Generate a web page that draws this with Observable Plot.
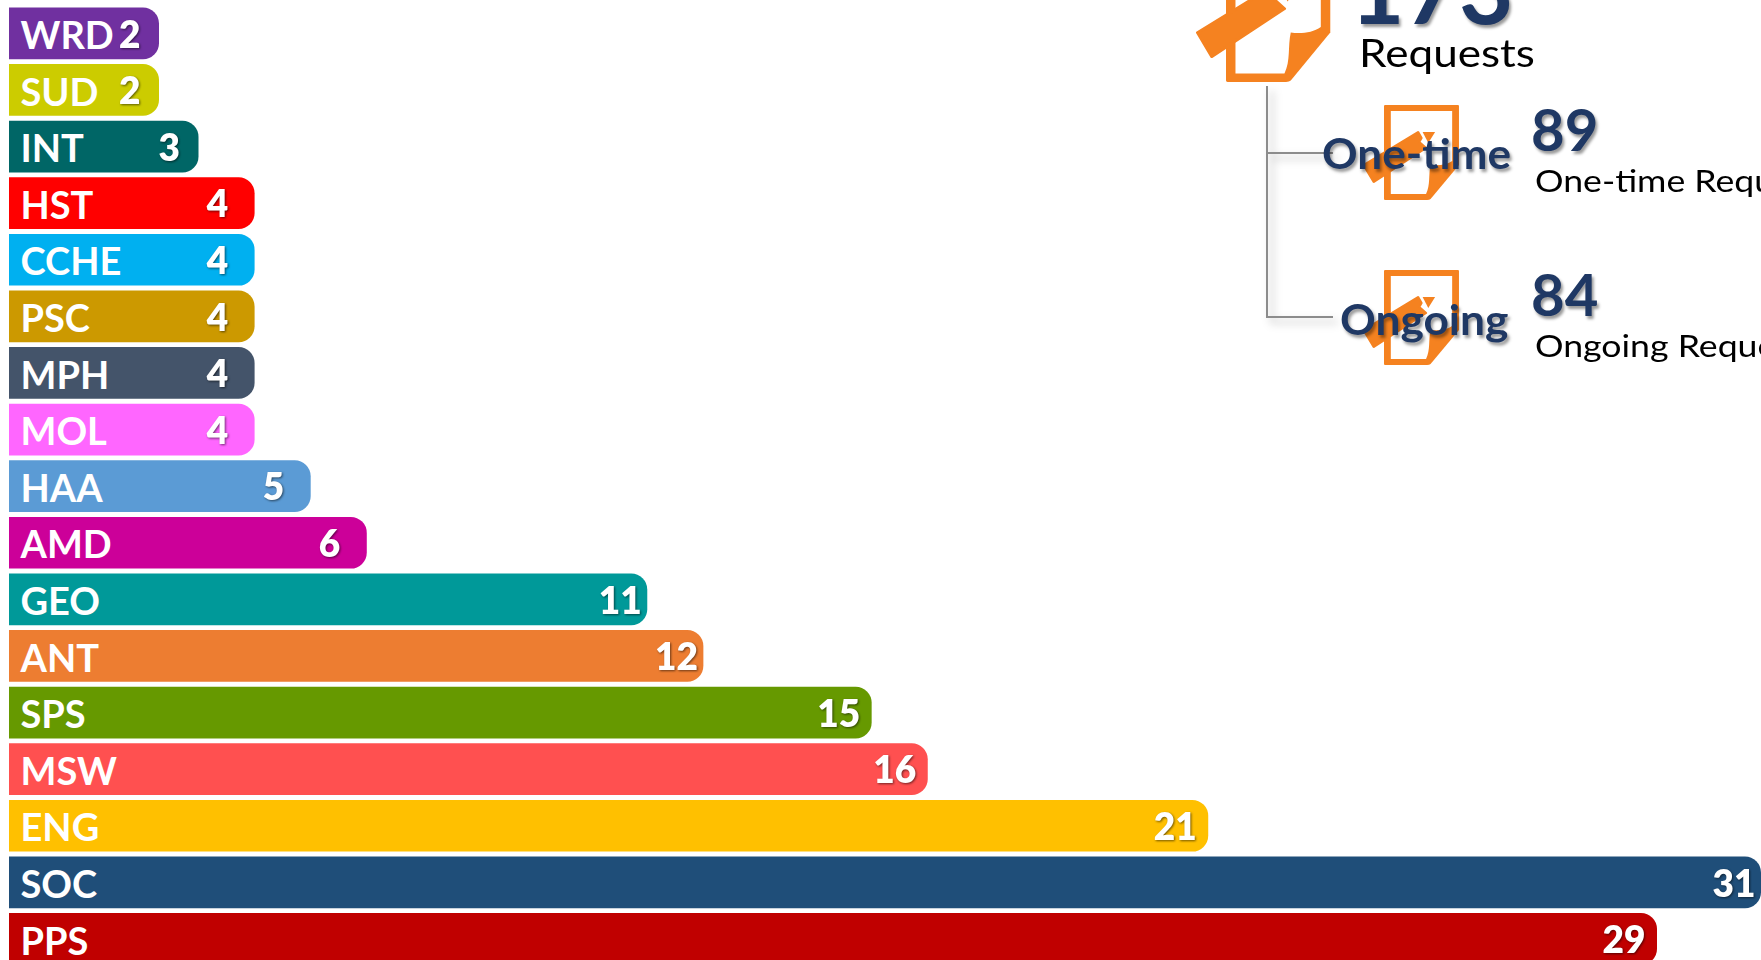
<!DOCTYPE html>
<html>
<head>
<meta charset="utf-8">
<script src="https://cdn.jsdelivr.net/npm/d3@7"></script>
<script src="https://cdn.jsdelivr.net/npm/@observablehq/plot@0.6"></script>
<style>
html,body{margin:0;padding:0;background:#fff;overflow:hidden}
#wrap{position:relative;width:1761px;height:960px;overflow:hidden;font-family:Lato,sans-serif}
#wrap svg{display:block}
.t{position:absolute;white-space:nowrap;line-height:1;transform-origin:0 100%}
.big{color:#1F3864;font-weight:700;text-shadow:2px 3px 3px rgba(0,0,0,.4)}
.sub{color:#000}
.ink{position:absolute;left:0;top:0;overflow:visible;pointer-events:none}
</style>
</head>
<body>
<div id="wrap"></div>
<script>
const categories = ["WRD","SUD","INT","HST","CCHE","PSC","MPH","MOL","HAA","AMD","GEO","ANT","SPS","MSW","ENG","SOC","PPS"];
const counts = [2,2,3,4,4,4,4,4,5,6,11,12,15,16,21,31,29];
const barColors = ["#7030A0","#CCCC00","#006666","#FF0000","#00B0F0","#CC9900","#44546A","#FF66FF","#5B9BD5","#CC0099","#009999","#ED7D31","#669900","#FF5050","#FFC000","#1F4E79","#C00000"];
const totalRequests = 173, oneTimeRequests = 89, ongoingRequests = 84;

const rows = categories.map((c,i)=>({category:c,count:counts[i]}));
const numberStyle = {x:"count",y:"category",text:"count",textAnchor:"end",dy:2,fill:"#fff",fontFamily:"Lato",fontWeight:800,fontSize:37,imageFilter:"drop-shadow(1.5px 1.5px 1px rgba(0,0,0,.55))"};
const chart = Plot.plot({
  width:1761, height:960, margin:0,
  style:{background:"transparent",overflow:"hidden"},
  x:{type:"linear",axis:null,domain:[0,2,3,29,31],range:[9,159,198.5,1657,1761]},
  y:{axis:null,domain:categories,range:[2.6,969.7],padding:0.0866,round:false},
  color:{domain:categories,range:barColors},
  marks:[
    Plot.barX(rows,{x:"count",y:"category",fill:"category",rx2y1:16,rx2y2:16,sort:null}),
    Plot.text(rows,{x:()=>0,y:"category",text:"category",textAnchor:"start",dx:11,dy:3,fill:"#fff",fontFamily:"Lato",fontWeight:700,fontSize:38}),
    Plot.text(rows,{...numberStyle,dx:-19,filter:d=>d.count<4}),
    Plot.text(rows,{...numberStyle,dx:-27,filter:d=>d.count>=4&&d.count<=6}),
    Plot.text(rows,{...numberStyle,dx:-6,filter:d=>d.count===11||d.count===12||d.count===31}),
    Plot.text(rows,{...numberStyle,dx:-12,filter:d=>d.count>12&&d.count!==31})
  ]
});
const wrap = document.getElementById("wrap");
wrap.appendChild(chart);

// Infographic panel (top right)
const ns="http://www.w3.org/2000/svg";
const icon = (x,y,sx,sy)=>`<g transform="translate(${x},${y}) scale(${sx},${sy})">
  <path d="M1,0H65Q66,0 66,1V60L41,94Q40,95 38,95H1Q0,95 0,94V1Q0,0 1,0Z" fill="#F58220"/>
  <path d="M6,6H60V56C55,60 48,61 41,60C39,70 41,80 37,89H6Z" fill="#fff"/>
  <path d="M-18,60L30,27L33,33L31,37L37,43L-9,77Z" fill="#F58220" stroke="#F58220" stroke-width="2" stroke-linejoin="round"/>
  <path d="M34,27H45L39,38Z" fill="#F58220"/>
</g>`;
const overlay = document.createElementNS(ns,"svg");
overlay.setAttribute("class","ink");
overlay.setAttribute("width",1761);
overlay.setAttribute("height",960);
overlay.innerHTML = `
<defs><filter id="ls" x="-50%" y="-50%" width="200%" height="200%"><feDropShadow dx="5" dy="5" stdDeviation="4" flood-color="#000" flood-opacity=".3"/></filter></defs>
<path d="M1267,86V317H1333M1267,153H1333" fill="none" stroke="#8c8c8c" stroke-width="2" filter="url(#ls)"/>
${icon(1226,-52,1.58,1.41)}${icon(1384,105,1.136,1)}${icon(1384,270,1.136,1)}`;
wrap.appendChild(overlay);
const labels = [
 [String(totalRequests),1350,16,94,"big",1],
 ["Requests",1359,64,39,"sub",1.13],
 [String(oneTimeRequests),1531,146,58,"big",1],
 ["One-time Requests",1535,190,31,"sub",1.15],
 [String(ongoingRequests),1531,311,58,"big",1],
 ["Ongoing Requests",1535,355,31,"sub",1.15],
 ["One-time",1322,166,42,"big",1.05],
 ["Ongoing",1340,332,42,"big",1.055]
];
for(const [txt,x,base,size,cls,sx] of labels){
  const d=document.createElement("div");
  d.className="t "+cls; d.textContent=txt;
  d.style.left=x+"px"; d.style.fontSize=size+"px";
  d.style.top=(base+size*0.2-size)+"px";
  d.style.transform=`scaleX(${sx})`;
  wrap.appendChild(d);
}
</script>
</body>
</html>
